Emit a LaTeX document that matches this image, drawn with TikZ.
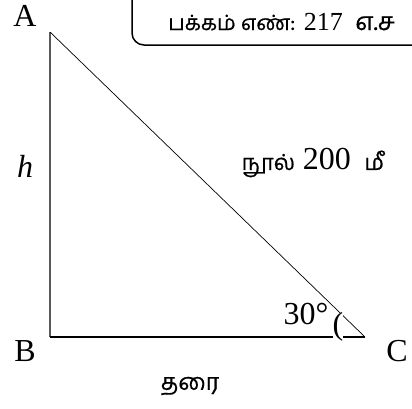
\documentclass[tikz,border=0pt]{standalone}
\usepackage{fontspec}
\setmainfont{Liberation Serif}
\newfontfamily\tamilfont[Script=Tamil, FakeBold=0.5]{Hind Madurai}
\begin{document}
\begin{tikzpicture}[x=1pt, y=-1pt]
\useasboundingbox (0,0) rectangle (412,408);
\clip (0,0) rectangle (412,408);

% --- Page box (runs off the top and right edge) ---
\draw[line width=1.5pt, rounded corners=12pt] (132,-20) rectangle (440,45);
\node[anchor=base west, inner sep=0pt, font=\fontsize{26}{28}\selectfont] (page) at (168,30)
    {{\tamilfont\fontsize{21}{24}\selectfont பக்கம் எண்:} 217\hspace{6pt} {\tamilfont\fontsize{25}{28}\selectfont எ.ச}};

% --- Triangle ---
\coordinate (A) at (50,32);
\coordinate (B) at (50,337);
\coordinate (C) at (365,337);
\draw[gray!70!black, line width=1.5pt] (A) -- (B);
\draw[line width=1.3pt] (B) -- (C);
\draw[line width=0.7pt] (A) -- (C);

% --- Vertex labels ---
\node[font=\fontsize{32}{34}\selectfont] (labA) at (25,16) {A};
\node[font=\fontsize{32}{34}\selectfont] (labB) at (25,351) {B};
\node[font=\fontsize{32}{34}\selectfont] (labC) at (397,351) {C};

% --- Side labels ---
\node[font=\fontsize{32}{34}\selectfont\itshape] (h) at (25,166) {h};
\node[font=\fontsize{32}{36}\selectfont] (rope) at (313,163)
    {{\tamilfont\fontsize{22}{26}\selectfont நூல்} 200\, {\tamilfont\fontsize{22}{26}\selectfont மீ}};
\node[font=\tamilfont\fontsize{23}{26}\selectfont] (ground) at (190,386) {தரை};

% --- Angle at C ---
\node[fill=white, inner sep=0pt, font=\fontsize{32}{36}\selectfont] (ang) at (306,314) {30°};
\node[fill=white, inner sep=0pt, font=\fontsize{32}{36}\selectfont] (arcC) at (338,327) {(};

\end{tikzpicture}
\end{document}
